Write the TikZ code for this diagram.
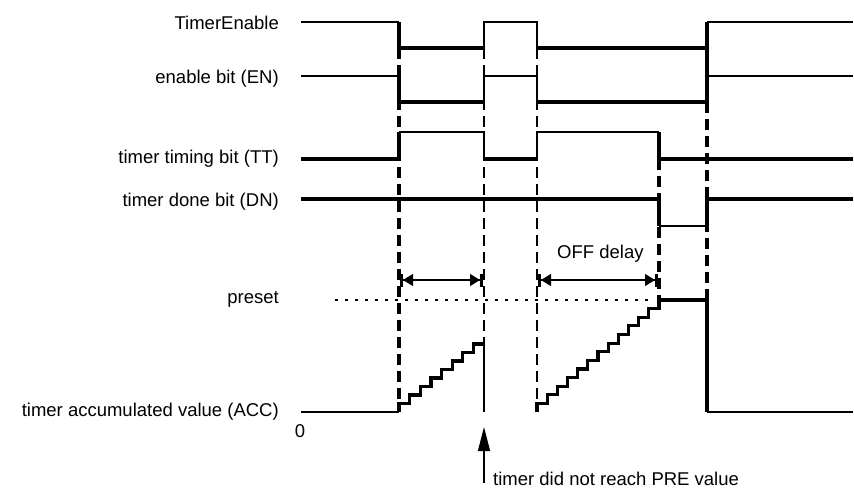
\documentclass[tikz,border=0pt]{standalone}
\usepackage{fontspec}
\setmainfont{Liberation Sans}
\usetikzlibrary{arrows.meta}
\begin{document}
\begin{tikzpicture}[x=1pt,y=-1pt,
  thinln/.style={line width=1.3pt},
  thickln/.style={line width=3.5pt},
  stairln/.style={line width=3.2pt},
  dashthick/.style={line width=3.5pt, dash pattern=on 11pt off 6pt},
  dashthin/.style={line width=1.3pt, dash pattern=on 11pt off 6pt},
  dotln/.style={line width=1.3pt, dash pattern=on 3pt off 7pt},
  dimarrow/.style={line width=1.3pt,
    {Bar[width=13pt,line width=3pt]Triangle[length=10pt,width=12pt]}-{Triangle[length=10pt,width=12pt]Bar[width=13pt,line width=3pt]}},
  lbl/.style={inner sep=0pt, font=\fontsize{18.5}{22}\selectfont},
]
\useasboundingbox (0,0) rectangle (854,490);

% labels
\node[lbl, anchor=base east] (lte) at (279,29) {TimerEnable};
\node[lbl, anchor=base east] (len) at (279,83) {enable bit (EN)};
\node[lbl, anchor=base east] (ltt) at (279,163) {timer timing bit (TT)};
\node[lbl, anchor=base east] (ldn) at (279,206) {timer done bit (DN)};
\node[lbl, anchor=base east] (lpre) at (279,303) {preset};
\node[lbl, anchor=base east] (lacc) at (279,416) {timer accumulated value (ACC)};
\node[lbl, anchor=base] (lzero) at (300,437) {0};
\node[lbl, anchor=base west] (loff) at (557,258) {OFF delay};
\node[lbl, anchor=base west] (lpre2) at (493,485) {timer did not reach PRE value};

% dashed guide lines
\draw[dashthick] (399,48) -- (399,410);
\draw[dashthin] (484,48) -- (484,344);
\draw[dashthin] (537,48) -- (537,410);
\draw[dashthick] (659,159) -- (659,300);
\draw[dashthick] (707,102) -- (707,300);

% TimerEnable
\draw[thinln] (301,22) -- (399,22);
\draw[thickln] (399,22) -- (399,48) -- (484,48);
\draw[thinln] (484,48) -- (484,22) -- (537,22) -- (537,48);
\draw[thickln] (537,48) -- (707,48) -- (707,22);
\draw[thinln] (707,22) -- (853,22);

% EN
\draw[thinln] (301,76) -- (399,76);
\draw[thickln] (399,76) -- (399,102) -- (484,102);
\draw[thinln] (484,102) -- (484,76) -- (537,76) -- (537,102);
\draw[thickln] (537,102) -- (707,102) -- (707,76);
\draw[thickln] (707,48) -- (707,76);
\draw[thinln] (707,76) -- (853,76);

% TT
\draw[thickln] (301,159) -- (399,159) -- (399,132);
\draw[thinln] (399,132) -- (484,132) -- (484,159);
\draw[thickln] (484,159) -- (537,159);
\draw[thinln] (537,159) -- (537,132) -- (659,132);
\draw[thickln] (659,132) -- (659,159) -- (853,159);

% DN
\draw[thickln] (301,199) -- (659,199) -- (659,226);
\draw[thinln] (659,226) -- (707,226);
\draw[thickln] (707,226) -- (707,199) -- (853,199);

% preset line
\draw[dotln] (335,300) -- (652,300);

% ACC
\draw[thinln] (301,412) -- (399,412);
\draw[stairln] (399,412) |- (409.6,403.5) |- (420.25,395) |- (430.9,386.5) |- (441.5,378)
  |- (452.1,369.5) |- (462.75,361) |- (473.4,352.5) |- (484,344);
\draw[thinln] (484,344) -- (484,412);
\draw[stairln] (537,412) |- (547.17,403.4) |- (557.33,394.8) |- (567.5,386.2) |- (577.67,377.5)
  |- (587.83,368.9) |- (598,360.3) |- (608.17,351.7) |- (618.33,343.1) |- (628.5,334.5)
  |- (638.67,325.8) |- (648.83,317.2) |- (659,308.6) -- (659,300);
\draw[thickln] (659,300) -- (707,300) -- (707,412);
\draw[thinln] (707,412) -- (853,412);

% dimension arrows
\coordinate (d1a) at (400,280);
\coordinate (d1b) at (483,280);
\coordinate (d2a) at (538,280);
\coordinate (d2b) at (658,280);
\draw[dimarrow] (d1a) -- (d1b);
\draw[dimarrow] (d2a) -- (d2b);

% up arrow
\coordinate (afoot) at (484,483);
\coordinate (atip) at (484,427);
\draw[thinln, -{Triangle[length=24pt,width=12pt]}] (afoot) -- (atip);
\end{tikzpicture}
\end{document}
